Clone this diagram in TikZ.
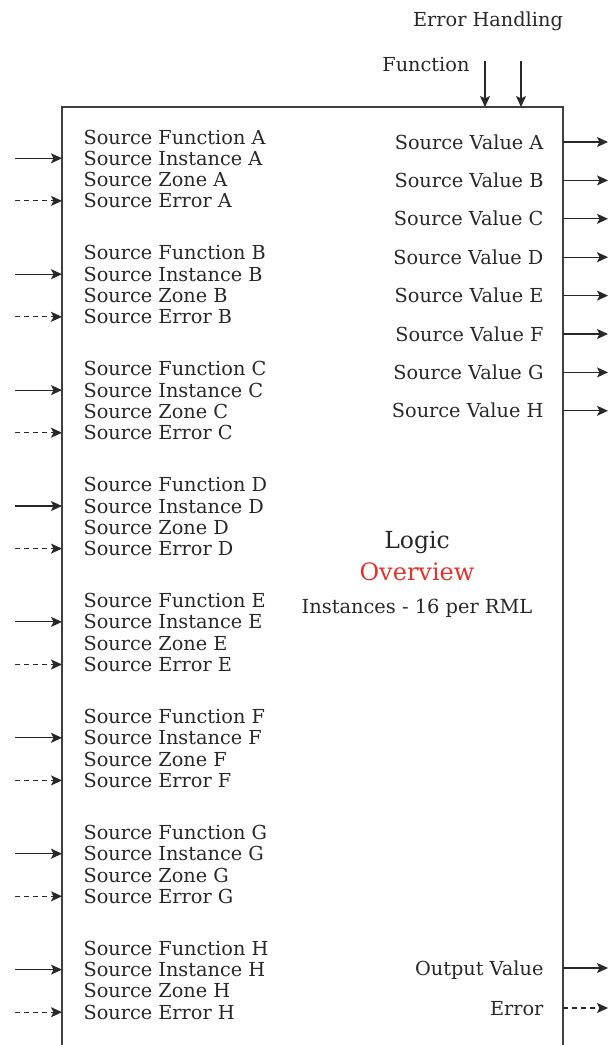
\documentclass[tikz,border=0pt]{standalone}
\usepackage{fontspec}
\setmainfont{DejaVu Serif}
\usepackage{tikz}
\usetikzlibrary{arrows.meta}
\definecolor{myred}{RGB}{226,50,45}
\definecolor{mygray}{RGB}{40,40,40}

\begin{document}
\begin{tikzpicture}[x=1pt, y=-1pt, >={Stealth[length=11pt,width=10pt,inset=2.5pt]}, line width=1.1pt,
	font=\fontsize{19.3}{21}\selectfont, color=mygray,
	lbl/.style={inner sep=0pt, text height=13pt, text depth=4pt, yshift=-2.5pt},
	err/.style={dash pattern=on 5pt off 4pt}]
				% Bildbereich
				\useasboundingbox (0,0) rectangle (613,1045);
				% Kasten zeichnen
				\coordinate (boxL) at (62,107);
				\coordinate (boxR) at (563,107);
				\draw[color=black!75] (62,1045) -- (boxL) -- (boxR) -- (563,1045);
				% Eingaenge links
				\foreach \g [count=\i from 0] in {A,B,C,D,E,F,G,H} {
					\pgfmathsetmacro{\yy}{137+115.9*\i}
					\node[lbl, anchor=west] (fun\g) at (83,\yy) {Source Function \g};
					\node[lbl, anchor=west] (ins\g) at (83,\yy+21.3) {Source Instance \g};
					\node[lbl, anchor=west] (zon\g) at (83,\yy+42.6) {Source Zone \g};
					\node[lbl, anchor=west] (err\g) at (83,\yy+63.9) {Source Error \g};
					\coordinate (in\g) at (15,\yy+21.3);
					\coordinate (ein\g) at (15,\yy+63.9);
					\draw[->] (in\g) -- (in\g -| boxL);
					\draw[->, err] (ein\g) -- (ein\g -| boxL);
				}
				% Ausgaenge rechts
				\foreach \g [count=\i from 0] in {A,B,C,D,E,F,G,H} {
					\pgfmathsetmacro{\yy}{142+38.4*\i}
					\node[lbl, anchor=east] (val\g) at (544,\yy) {Source Value \g};
					\coordinate (out\g) at (608,\yy);
					\draw[->] (out\g -| boxR) -- (out\g);
				}
				\node[lbl, anchor=east] (outval) at (544,968) {Output Value};
				\node[lbl, anchor=east] (outerr) at (544,1008) {Error};
				\coordinate (outV) at (608,968);
				\coordinate (outE) at (608,1008);
				\draw[->] (outV -| boxR) -- (outV);
				\draw[->, err] (outE -| boxR) -- (outE);
				% Steuereingaenge oben
				\node[lbl, anchor=east] (func) at (470,64) {Function};
				\node[lbl] (errh) at (488,19) {Error Handling};
				\coordinate (funIn) at (485,61);
				\coordinate (errIn) at (521,61);
				\draw[->] (funIn) -- (funIn |- boxL);
				\draw[->] (errIn) -- (errIn |- boxL);
				% Beschriftung Mitte
				\node[lbl, font=\fontsize{23.5}{25}\selectfont] (logic) at (417,541) {Logic};
				\node[lbl, myred, font=\fontsize{24}{26}\selectfont] (overview) at (417,573) {Overview};
				\node[lbl, font=\fontsize{19.4}{21}\selectfont] (inst) at (417,606) {Instances - 16 per RML};
		\end{tikzpicture}
\end{document}
